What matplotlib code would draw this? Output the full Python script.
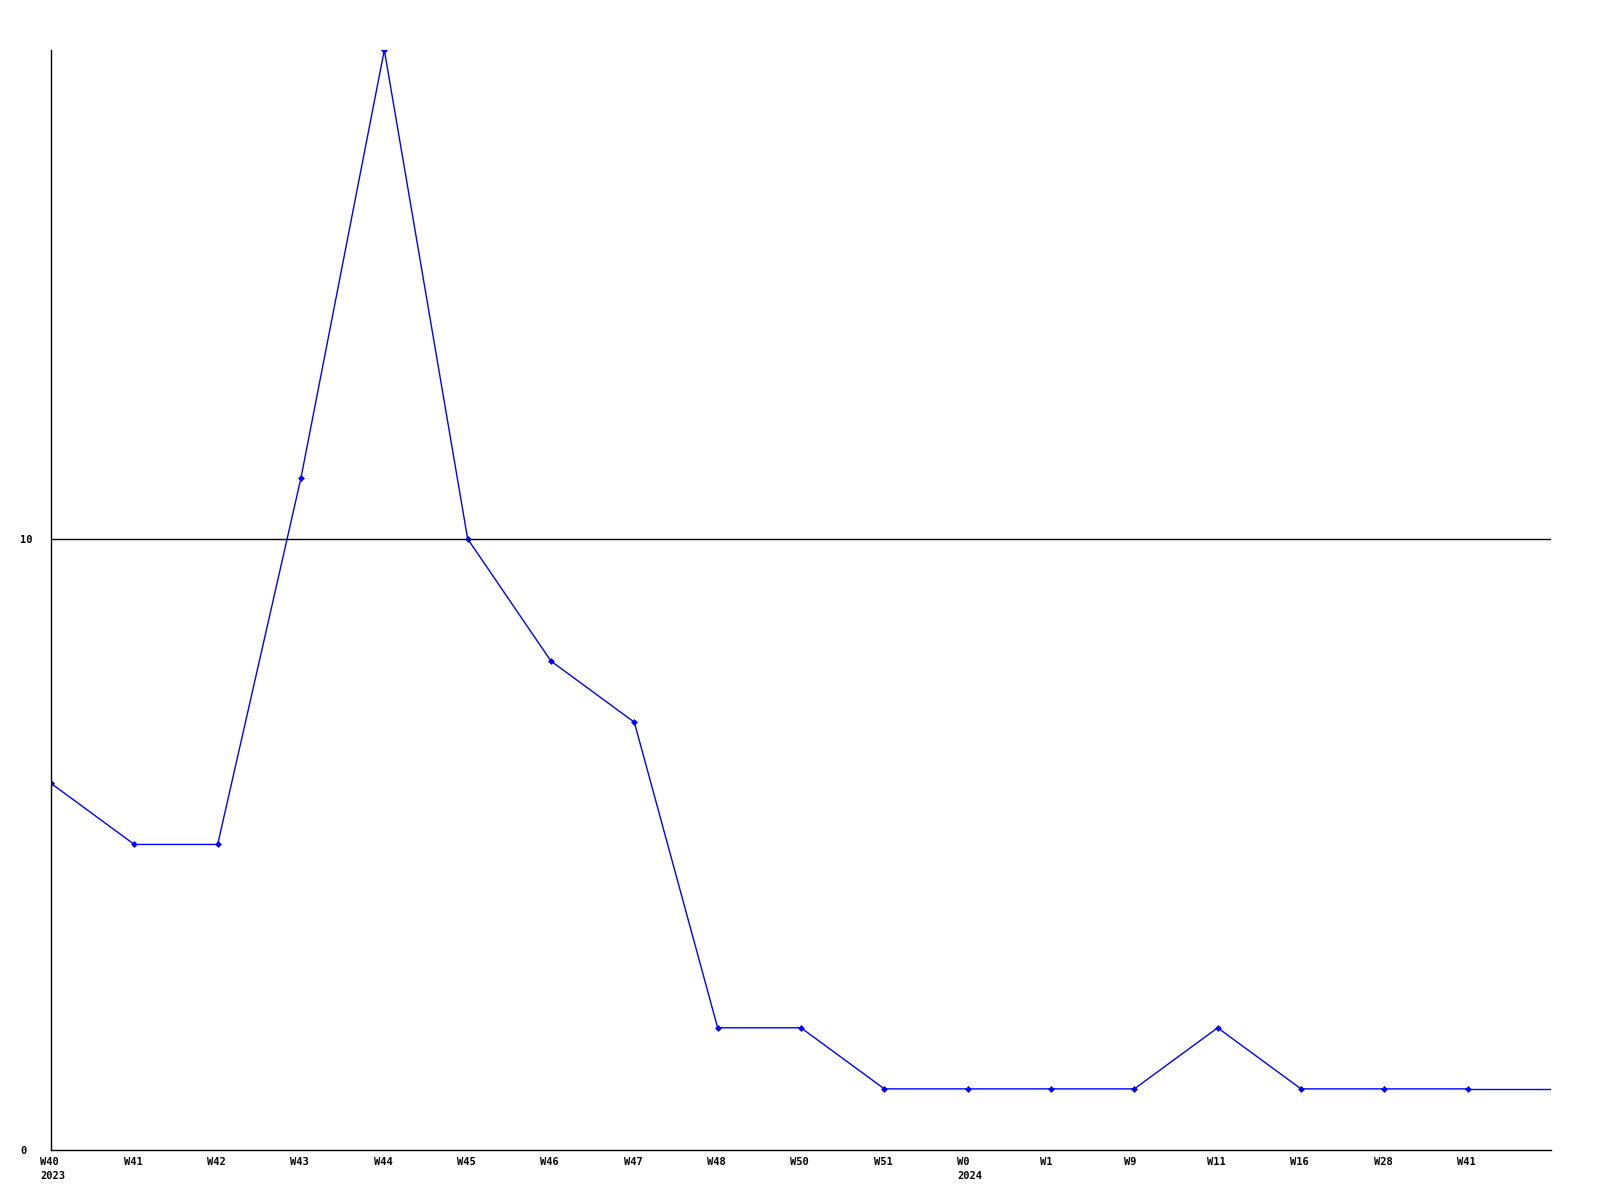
import matplotlib
matplotlib.use("Agg")
import matplotlib.pyplot as plt

weeks = ["W40", "W41", "W42", "W43", "W44", "W45", "W46", "W47", "W48",
         "W50", "W51", "W0", "W1", "W9", "W11", "W16", "W28", "W41", ""]
years = {0: "2023", 11: "2024"}
values = [6, 5, 5, 11, 18, 10, 8, 7, 2, 2, 1, 1, 1, 1, 2, 1, 1, 1, 1]
y_ticks = [0, 10]

plt.rcParams['font.family'] = ['DejaVu Sans Mono']
fs = 7.5
shift_pt = -10.5 * 0.72  # labels start this far left of their tick

fig = plt.figure(figsize=(16, 12), dpi=100)
ax = fig.add_axes([51 / 1600, 1 - 1150 / 1200, 1500 / 1600, 1100 / 1200])

x = list(range(len(values)))
ax.plot(x[:-1], values[:-1], color="#0000ff", lw=1, marker="D", ms=3.5,
        markeredgewidth=0)
ax.plot(x[-2:], values[-2:], color="#0000ff", lw=1)

ax.set_xlim(0, len(values) - 1)
ax.set_ylim(0, 18)

for yt in y_ticks[1:]:
    ax.axhline(yt, color="black", lw=1)

# week labels (and year below), left-aligned just left of each tick
ax.set_xticks([])
for i, w in enumerate(weeks[:-1]):
    txt = w + ("\n" + years[i] if i in years else "")
    ax.annotate(txt, xy=(i, 0), xycoords="data",
                xytext=(shift_pt, -5), textcoords="offset points",
                ha="left", va="top", fontsize=fs, fontweight="bold",
                linespacing=1.5, annotation_clip=False)

ax.set_yticks(y_ticks)
ax.set_yticklabels([str(v) for v in y_ticks], fontsize=fs, fontweight="bold",
                   ha="left")
ax.tick_params(length=0)
ax.tick_params(axis="y", pad=22.3)

for s in ["top", "right"]:
    ax.spines[s].set_visible(False)
for s in ["left", "bottom"]:
    ax.spines[s].set_linewidth(1)

fig.savefig("out.png", dpi=100)
